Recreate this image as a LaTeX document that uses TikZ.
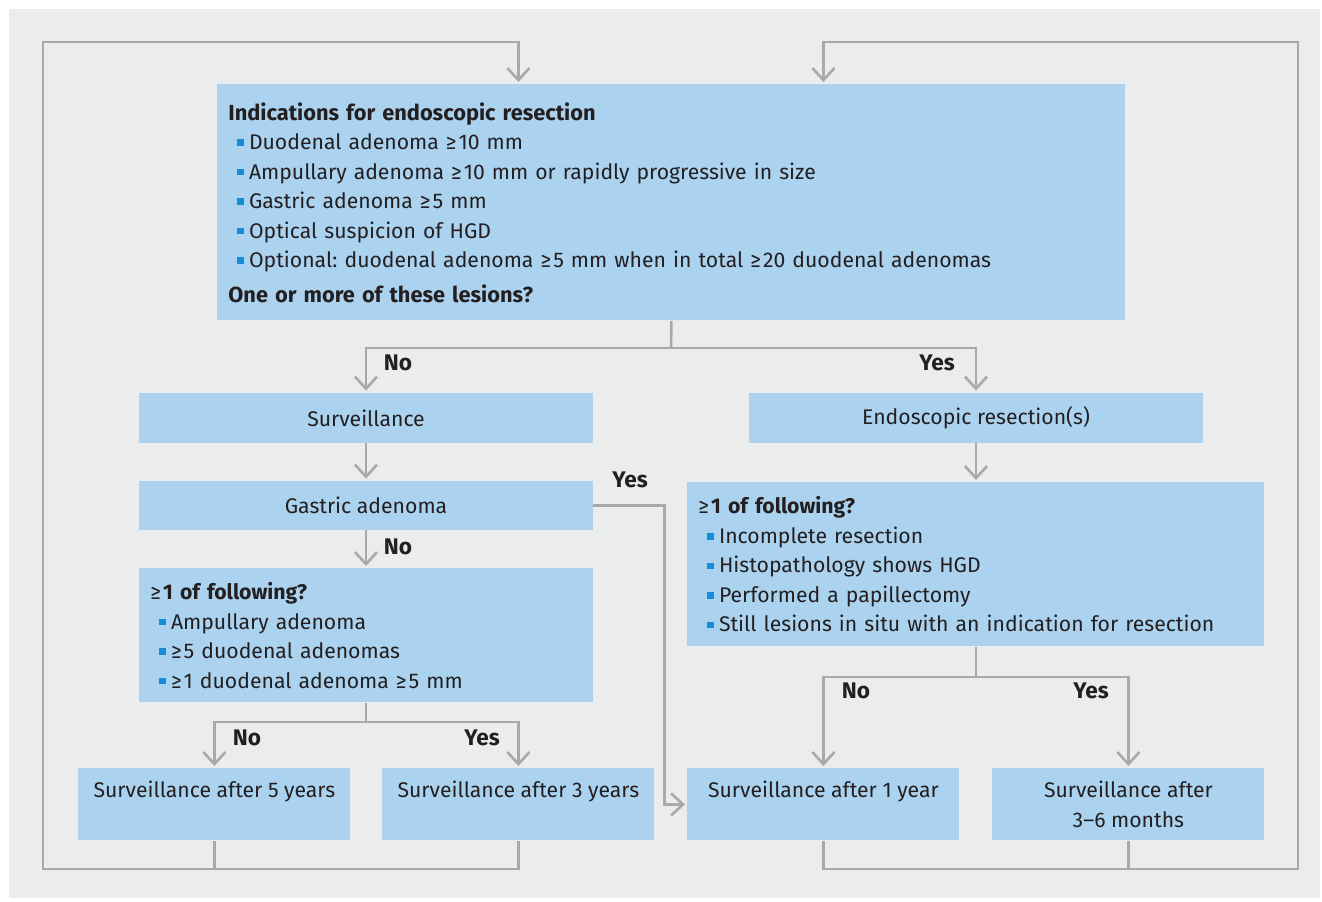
\documentclass[tikz,border=0pt]{standalone}
\usepackage{fontspec}
\setmainfont{Fira Sans}
\usepackage{xcolor}
\usepackage{tikz}
\usetikzlibrary{arrows.meta, positioning}
\definecolor{bggray}{RGB}{235,236,236}
\definecolor{boxblue}{RGB}{171,211,240}
\definecolor{bulletblue}{RGB}{20,140,215}
\definecolor{linegray}{RGB}{168,169,171}
\definecolor{txt}{RGB}{35,31,32}
\tikzstyle{block}=[fill=boxblue, rectangle, inner sep=0pt, align=center, text=txt]
\tikzstyle{listblock}=[block, anchor=north west, align=left, inner xsep=5.5pt, inner ysep=0pt]
\tikzstyle{endblock}=[block, anchor=north west, minimum width=136pt, minimum height=36pt]
\tikzstyle{line}=[draw=linegray, line width=1.3pt]
\tikzstyle{flow}=[line, -{Straight Barb[length=6pt, width=11pt]}, shorten >=1pt]
\tikzstyle{lab}=[font=\fontsize{11.3}{13}\selectfont\bfseries, text=txt, inner sep=0pt]
\def\itm{\hspace*{4.5pt}\textcolor{bulletblue}{\rule[1.9pt]{3.2pt}{3.2pt}}\hspace{2.6pt}}
\def\ge{{\mdseries ≥}\hspace{0.1em}}
\frenchspacing

\begin{document}
\begin{tikzpicture}[x=0.5pt, y=-0.5pt, font=\fontsize{10.6}{14.75}\selectfont]
		\useasboundingbox (0,0) rectangle (1322,901);
		\fill[bggray] (9,9) rectangle (1320,898);
		%---------------------
		\node[listblock, text width=443pt, minimum height=118pt] (main) at (217,84) {%
			\textbf{\fontsize{10.9}{14.75}\selectfont Indications for endoscopic resection}\\
			\itm Duodenal adenoma \ge10 mm\\
			\itm Ampullary adenoma \ge10 mm or rapidly progressive in size\\
			\itm Gastric adenoma \ge5 mm\\
			\itm Optical suspicion of HGD\\
			\itm Optional: duodenal adenoma \ge5 mm when in total \ge20 duodenal adenomas\\[2.5pt]
			\textbf{\fontsize{10.9}{14.75}\selectfont One or more of these lesions?}};
		\node[block, minimum width=227pt, minimum height=25pt] (surv) at (366,418) {Surveillance};
		\node[block, minimum width=227pt, minimum height=25pt] (endo) at (976,418) {Endoscopic resection(s)};
		\node[block, minimum width=227pt, minimum height=24.5pt] (gastric) at (366,505.5) {Gastric adenoma};
		\node[listblock, text width=216pt, minimum height=67pt] (lq) at (139,568) {%
			\textbf{\ge1 of following?}\\
			\itm Ampullary adenoma\\
			\itm \ge5 duodenal adenomas\\
			\itm \ge1 duodenal adenoma \ge5 mm};
		\node[listblock, text width=277.5pt, minimum height=82pt] (rq) at (687,482) {%
			\textbf{\ge1 of following?}\\
			\itm Incomplete resection\\
			\itm Histopathology shows HGD\\
			\itm Performed a papillectomy\\
			\itm Still lesions in situ with an indication for resection};
		\node[endblock] (s5) at (78,768) {Surveillance after 5 years\\\mbox{}};
		\node[endblock] (s3) at (382,768) {Surveillance after 3 years\\\mbox{}};
		\node[endblock] (s1) at (687,768) {Surveillance after 1 year\\\mbox{}};
		\node[endblock] (s36) at (992,768) {Surveillance after\\3--6 months};
		%---------------------
		\coordinate (split1) at (671,348);
		\coordinate (split2) at (366,722);
		\coordinate (split3) at (976,677);
		\coordinate (loopL1) at (43,869);
		\coordinate (loopL2) at (43,42);
		\coordinate (loopR1) at (1298,869);
		\coordinate (loopR2) at (1298,42);
		\draw[line] (main.south) -- (split1);
		\draw[flow] (split1) -| (surv.north);
		\draw[flow] (split1) -| (endo.north);
		\node[lab] (no1) at (398,363) {No};
		\node[lab] (yes1) at (937,363) {Yes};
		\draw[flow] (surv.south) -- (gastric.north);
		\draw[flow] (endo.south) -- (rq.north -| endo.south);
		\draw[flow] (gastric.south) -- (lq.north -| gastric.south);
		\node[lab] (no2) at (398,547) {No};
		\draw[flow] (gastric.east) -- ++(71,0) |- (s1.west);
		\node[lab] (yes2) at (630,480) {Yes};
		\draw[line] (lq.south -| split2) -- (split2);
		\draw[flow] (split2) -| (s5.north);
		\draw[flow] (split2) -| (s3.north);
		\node[lab] (no3) at (247,738) {No};
		\node[lab] (yes3) at (482,738) {Yes};
		\draw[line] (rq.south -| split3) -- (split3);
		\draw[flow] (split3) -| (s1.north);
		\draw[flow] (split3) -| (s36.north);
		\node[lab] (no4) at (856,691) {No};
		\node[lab] (yes4) at (1091,691) {Yes};
		%---------------------
		\draw[line] (s5.south) -- (s5.south |- loopL1);
		\draw[flow] (s3.south) |- (loopL1) -- (loopL2) -| (main.north -| s3.north);
		\draw[line] (s36.south) -- (s36.south |- loopR1);
		\draw[flow] (s1.south) |- (loopR1) -- (loopR2) -| (main.north -| s1.north);
	\end{tikzpicture}
\end{document}
